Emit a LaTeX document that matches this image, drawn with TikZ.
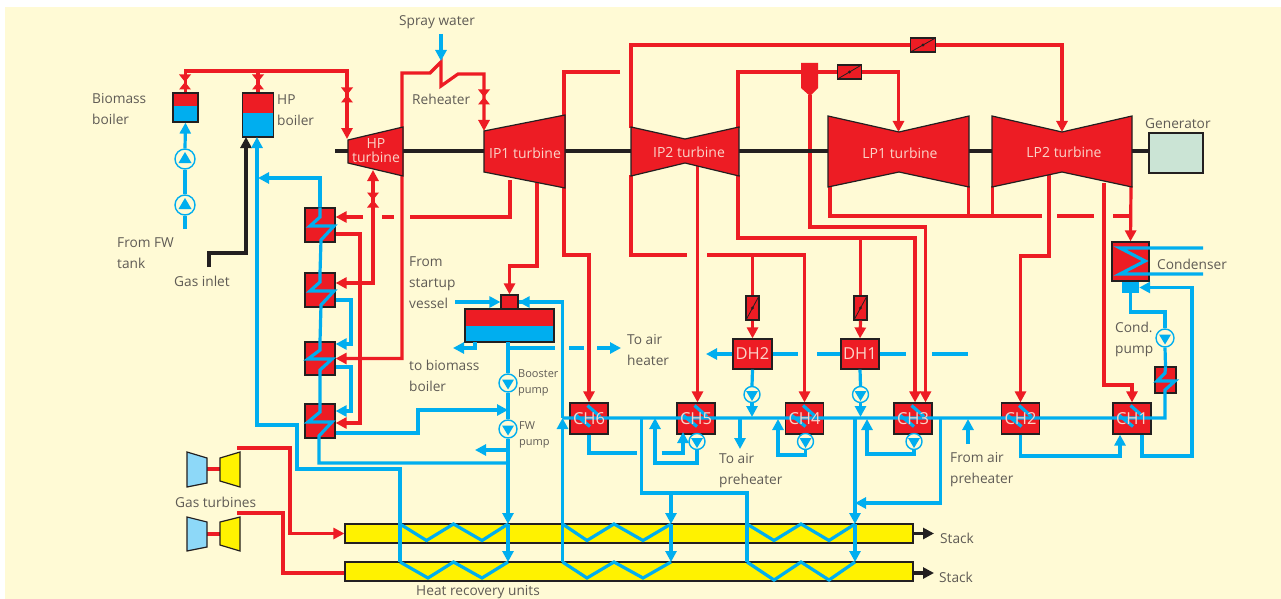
\documentclass[tikz,border=0pt]{standalone}
\usepackage{fontspec}
\setmainfont{Open Sans}
\usetikzlibrary{arrows.meta,calc}
\definecolor{steam}{HTML}{ED1C24}
\definecolor{water}{HTML}{00AEEF}
\definecolor{cream}{HTML}{FFFAD5}
\definecolor{dark}{HTML}{231F20}
\definecolor{txtgrey}{HTML}{5F5B55}
\definecolor{pale}{HTML}{FBD3C8}
\definecolor{genfill}{HTML}{CBE4D5}
\definecolor{hrufill}{HTML}{FFF200}
\definecolor{gcfill}{HTML}{8DD8F8}

\begin{document}
\begin{tikzpicture}[x=1pt,y=-1pt,
  stm/.style={draw=steam, line width=3.2pt},
  stma/.style={stm, -{Triangle[length=11pt,width=11pt]}},
  stmb/.style={stm, {Triangle[length=11pt,width=11pt]}-{Triangle[length=11pt,width=11pt]}},
  wat/.style={draw=water, line width=3.2pt},
  wata/.style={wat, -{Triangle[length=11pt,width=11pt]}},
  blk/.style={draw=dark, line width=3.2pt},
  blka/.style={blk, -{Triangle[length=11pt,width=11pt]}},
  lbl/.style={font=\fontsize{13.7}{21}\selectfont, text=txtgrey, align=left, anchor=west, inner sep=0pt},
  tiny/.style={lbl, font=\fontsize{11}{16}\selectfont},
  inlbl/.style={font=\fontsize{14}{14}\selectfont, text=pale, align=center, inner sep=0pt},
  bigl/.style={font=\fontsize{16.5}{18}\selectfont, text=pale, inner sep=0pt},
  box/.style={rectangle, draw=dark, line width=1.2pt, fill=steam, inner sep=0pt},
  heater/.style={box, minimum width=30pt, minimum height=34pt},
  chbox/.style={box, minimum width=38pt, minimum height=31pt,
    path picture={\draw[wat,shift={(path picture bounding box.center)}] (-1.5,-13) -- (11,-2) (-14,-4) -- (1,8);}},
  drum/.style={box, path picture={\fill[water] ([yshift=#1]path picture bounding box.south west) rectangle (path picture bounding box.south east);}},
  damper/.style={box,
    path picture={\draw[dark, line width=.8pt] (path picture bounding box.south west) -- (path picture bounding box.north east);
      \fill[dark] (path picture bounding box.center) circle (1.6);}},
  bowtie/.style={minimum width=12pt, minimum height=15pt, inner sep=0pt,
    path picture={\fill[steam] (path picture bounding box.north west) -- (path picture bounding box.north east) -- (path picture bounding box.south west) -- (path picture bounding box.south east) -- cycle;}},
  pumpu/.style={circle, draw=water, line width=1.4pt, fill=cream, minimum size=20pt, inner sep=0pt,
    path picture={\fill[water,shift={(path picture bounding box.center)}] (-6.5,4) -- (6.5,4) -- (0,-7) -- cycle;}},
  pumpd/.style={circle, draw=water, line width=1.4pt, fill=cream, minimum size=#1, inner sep=0pt,
    path picture={\fill[water,shift={(path picture bounding box.center)}] (-6,-3.5) -- (6,-3.5) -- (0,6.5) -- cycle;}},
  turb/.style={draw=dark, line width=1.2pt, fill=steam, line join=miter},
  gas/.style={draw=dark, line width=1.2pt, fill=#1}
]
  \useasboundingbox (0,0) rectangle (1281,599);
  \fill[white] (0,0) rectangle (1281,599);
  \fill[cream] (5,7) rectangle (1281,599);

  % junctions and free ends
  \coordinate (hdr) at (347,71);
  \coordinate (hpin) at (347,139);
  \coordinate (hpout) at (373,170);
  \coordinate (ip1in) at (484,131);
  \coordinate (ip1out) at (510,180);
  \coordinate (ip1dea) at (537,183);
  \coordinate (ip2tl) at (631,128);
  \coordinate (ip2bl) at (631,175);
  \coordinate (ip2tr) at (738,128);
  \coordinate (ip2br) at (738,175);
  \coordinate (ip2c) at (697.5,162);
  \coordinate (lp1in) at (898.5,132);
  \coordinate (lp2in) at (1062,132);
  \coordinate (lp1bl) at (830,186);
  \coordinate (lp1br) at (968.5,186);
  \coordinate (lp2bl) at (992.7,186);
  \coordinate (lp2m) at (1049,175);
  \coordinate (lp2n) at (1104,183);
  \coordinate (lp2r) at (1131,186);
  \coordinate (sep) at (810,95);
  \coordinate (d1) at (363,217);
  \coordinate (d2) at (382,217);
  \coordinate (d3) at (394,217);
  \coordinate (d4) at (410,217);
  \coordinate (rh1) at (620,72);
  \coordinate (a1) at (687,255);
  \coordinate (a2) at (707,255);
  \coordinate (a3) at (752.5,255);
  \coordinate (b1) at (860.5,238);
  \coordinate (e1) at (1042,216);
  \coordinate (e2) at (1057,216);
  \coordinate (e3) at (1094,216);
  \coordinate (e4) at (1113,216);
  \coordinate (e5) at (1131,216);
  \coordinate (e6) at (968.5,216);
  \coordinate (e7) at (992.7,216);
  \coordinate (shl) at (335,151);
  \coordinate (gc1) at (207,469);
  \coordinate (gt1) at (220,469);
  \coordinate (gt1o) at (237,448);
  \coordinate (gc2) at (207,534);
  \coordinate (gt2) at (220,534);
  \coordinate (gt2o) at (237,513);
  \coordinate (spr1) at (441,34);
  \coordinate (spr2) at (441,61);
  \coordinate (fwin) at (185,229);
  \coordinate (gas1) at (209,267);
  \coordinate (gas2) at (246,137);
  \coordinate (hpf) at (257,137);
  \coordinate (hpb1) at (258,178);
  \coordinate (j1u) at (400,524);
  \coordinate (j1v) at (508,524);
  \coordinate (j2u) at (562.5,524);
  \coordinate (j2v) at (671,524);
  \coordinate (j3u) at (747,524);
  \coordinate (j3v) at (855,524);
  \coordinate (k1u) at (400,562);
  \coordinate (k1v) at (508,562);
  \coordinate (k2u) at (562.5,562);
  \coordinate (k2v) at (671,562);
  \coordinate (k3u) at (747,562);
  \coordinate (k3v) at (855,562);
  \coordinate (vesin) at (455,302);
  \coordinate (deao) at (508,342);
  \coordinate (deal) at (475,342);
  \coordinate (deal2) at (453,348);
  \coordinate (air0) at (508,348);
  \coordinate (air1) at (555,348);
  \coordinate (air2) at (569,348);
  \coordinate (air3) at (584,348);
  \coordinate (air4) at (597,348);
  \coordinate (air5) at (621,348);
  \coordinate (fwj1) at (508,410);
  \coordinate (fwj2) at (508,450);
  \coordinate (fwj3) at (475,450);
  \coordinate (fwj4) at (508,463);
  \coordinate (m6) at (562.5,418);
  \coordinate (m7) at (641.5,418);
  \coordinate (m5c) at (655,418);
  \coordinate (mair) at (740,418);
  \coordinate (mairo) at (740,449);
  \coordinate (m4c) at (778,419);
  \coordinate (m3) at (940.5,418);
  \coordinate (m4) at (855,418);
  \coordinate (m3c) at (867,419);
  \coordinate (mdh2) at (752,417);
  \coordinate (mdh1) at (860.5,417);
  \coordinate (fair1) at (968,444);
  \coordinate (fair2) at (968,419);
  \coordinate (h6a) at (637,453);
  \coordinate (h5a) at (661.7,453);
  \coordinate (h5b) at (683,432);
  \coordinate (x1) at (671,493);
  \coordinate (x2) at (855,503);
  \coordinate (dh2l) at (706,354);
  \coordinate (dha) at (798,354);
  \coordinate (dhb) at (817,354);
  \coordinate (dhc) at (906,354);
  \coordinate (dhd) at (932,354);
  \coordinate (dhe) at (968,354);
  \coordinate (co1) at (1203,248);
  \coordinate (co2) at (1203,274);
  \coordinate (st1) at (934,533.5);
  \coordinate (st2) at (934,573);

  % boilers, heaters, vessels
  \node[drum=16pt, minimum width=25pt, minimum height=29pt] (bio) at (185.5,107.5) {};
  \node[drum=24pt, minimum width=31pt, minimum height=44pt] (hpb) at (258,115) {};
  \node[heater] (sh1) at (320,225) {};
  \node[heater] (sh2) at (320,290) {};
  \node[heater, minimum height=33pt] (sh3) at (320,358.5) {};
  \node[heater] (sh4) at (320,421) {};
  \node[drum=16pt, minimum width=89pt, minimum height=33pt] (dea) at (509.5,325.5) {};
  \node[box, minimum width=17pt, minimum height=14pt] (dean) at (509.5,302) {};
  \fill[steam] ([xshift=1pt]dean.south west) rectangle ([xshift=-1pt,yshift=-1.2pt]dean.south east);
  \node[chbox] (ch6) at (589,418.5) {};
  \node[chbox] (ch5) at (696,418.5) {};
  \node[chbox] (ch4) at (804.5,418.5) {};
  \node[chbox] (ch3) at (913,418.5) {};
  \node[chbox] (ch2) at (1020.5,418.5) {};
  \node[chbox] (ch1) at (1132,418.5) {};
  \node[box, minimum width=39pt, minimum height=30pt] (dh2) at (752.5,354) {};
  \node[box, minimum width=38pt, minimum height=30pt] (dh1) at (860,354) {};
  \node[box, minimum width=37pt, minimum height=39pt] (cond) at (1130.5,261.5) {};
  \node[rectangle, fill=water, minimum width=17pt, minimum height=11pt, inner sep=0pt] (hot) at (1130.5,287.5) {};
  \node[box, minimum width=21pt, minimum height=26pt] (gch) at (1165.5,380) {};
  \node[box, fill=genfill, minimum width=54pt, minimum height=40pt] (gen) at (1176,153) {};
  \node[box, fill=hrufill, minimum width=568pt, minimum height=19pt] (hru1) at (629,533.5) {};
  \node[box, fill=hrufill, minimum width=568pt, minimum height=19pt] (hru2) at (629,571.5) {};

  % valves and pumps
  \node[bowtie] (v1) at (185,82) {};
  \node[bowtie] (v2) at (258,82) {};
  \node[bowtie] (v3) at (347,95) {};
  \node[bowtie] (v4) at (373,200) {};
  \node[bowtie] (v5) at (484,97) {};
  \node[damper, minimum width=25pt, minimum height=14pt] (dmp1) at (923,45) {};
  \node[damper, minimum width=24pt, minimum height=14pt] (dmp2) at (849.5,72) {};
  \node[damper, minimum width=13pt, minimum height=24pt] (dmp3) at (752.5,308) {};
  \node[damper, minimum width=13pt, minimum height=24pt] (dmp4) at (860.5,308) {};
  \node[pumpu] (pf1) at (185,159) {};
  \node[pumpu] (pf2) at (185,205) {};
  \node[pumpd=18pt] (pb) at (508,383) {};
  \node[pumpd=18pt] (pw) at (508,429) {};
  \node[pumpd=16pt] (pd2) at (752,394.5) {};
  \node[pumpd=16pt] (pd1) at (860.5,394.5) {};
  \node[pumpd=16pt] (pc5) at (697,441.5) {};
  \node[pumpd=16pt] (pc4) at (805.5,441.5) {};
  \node[pumpd=16pt] (pc3) at (914,441.5) {};
  \node[pumpd=18pt] (pcn) at (1165,338) {};

  % steam
  \draw[stma] (bio.north) |- (hdr) -- (hpin);
  \draw[stm] (hpb.north) -- (hpb.north |- hdr);
  \draw[stmb] (hpout) |- ([yshift=7pt]sh2.east);
  \draw[stmb] (sh3.east) -- (402,358.5) -- (402,73) -- (430,73) -- (441,62) -- (441,86) -- (458,74) -- (484,74) -- (ip1in);
  \draw[stma] ([yshift=-9pt]sh1.east) -- (360,234) -- (360,423) -- ([yshift=-2pt]sh4.east);
  \draw[stma] (d1) -- ([yshift=8pt]sh1.east);
  \draw[stm] (d2) -- (d3);
  \draw[stm] (ip1out) |- (d4);
  \draw[stma] (ip1dea) -- (537,266) -- (509.5,266) -- (dean.north);
  \draw[stma] (rh1) -- (564,72) -- (564,255) -- (589,255) -- (ch6.north);
  \draw[stm] (ip2tl) |- (dmp1.west);
  \draw[stma] (dmp1.east) -| (lp2in);
  \draw[stm] (ip2bl) |- (a1);
  \draw[stma] (a2) -| (ch4.north);
  \draw[stm] (a3) -- (dmp3.north);
  \draw[stma] (dmp3.south) -- (dh2.north);
  \draw[stma] (ip2c) -- (ip2c |- ch5.north);
  \draw[stm] (ip2tr) |- (dmp2.west);
  \draw[stma] (dmp2.east) -| (lp1in);
  \draw[stma] (ip2br) -- (738,238) -- (915,238) -- ([xshift=2pt]ch3.north);
  \draw[stm] (b1) -- (dmp4.north);
  \draw[stma] (dmp4.south) -- (dh1.north);
  \draw[stma] (sep) -- (810,227) -- (925.5,227) -- ([xshift=12.5pt]ch3.north);
  \draw[stm] (lp1bl) |- (e1);
  \draw[stm] (lp1br) -- (e6);
  \draw[stm] (lp2bl) -- (e7);
  \draw[stm] (e2) -- (e3);
  \draw[stm] (e4) -- (e5);
  \draw[stma] (lp2m) -- (1049,256) -- (1020.5,256) -- (ch2.north);
  \draw[stma] (lp2n) -- (1104,385) -- (1132,385) -- (ch1.north);
  \draw[stma] (lp2r) -- (cond.north);
  \draw[stma] (gt1o) -- (290,448) -- (290,533.5) -- (hru1.west);
  \draw[stm] (gt2o) -- (283,513) -- (283,573) -- ([yshift=-1.5pt]hru2.west);
  \draw[stm] (gc1) -- (gt1);
  \draw[stm] (gc2) -- (gt2);
  \fill[steam] (801,63) -- (818,63) -- (818,88) -- (810,96) -- (801,88) -- cycle;

  % shaft and turbines
  \draw[blk] (shl) -- (shl -| gen.west);
  \draw[turb] (348,140) -- (403,127) -- (403,176) -- (348,163) -- cycle;
  \draw[turb] (484,131) -- (565,115) -- (565,188) -- (484,172) -- cycle;
  \draw[turb] (631,127) -- (685,139) -- (739,127) -- (739,176) -- (685,163) -- (631,176) -- cycle;
  \draw[turb] (828,116) -- (899,132) -- (969,116) -- (969,187) -- (899,172) -- (828,187) -- cycle;
  \draw[turb] (992,116) -- (1062,132) -- (1132,116) -- (1132,187) -- (1062,172) -- (992,187) -- cycle;
  \draw[gas=gcfill] (187,452) -- (207,458) -- (207,483) -- (187,487) -- cycle;
  \draw[gas=hrufill] (220,458) -- (240,452) -- (240,487) -- (220,481) -- cycle;
  \draw[gas=gcfill] (187,517) -- (207,522) -- (207,547) -- (187,551) -- cycle;
  \draw[gas=hrufill] (220,522) -- (240,517) -- (240,551) -- (220,545) -- cycle;

  % gas and stack
  \draw[blka] (gas1) -- (209,253) -- (246,253) -- (gas2);
  \draw[blka] (hru1.east) -- (st1);
  \draw[blka] ([yshift=-1.5pt]hru2.east) -- (st2);

  % water
  \draw[wata] (spr1) -- (spr2);
  \draw[wat] (fwin) -- (pf2.south);
  \draw[wat] (pf2.north) -- (pf1.south);
  \draw[wata] (pf1.north) -- (bio.south);
  \draw[wata] (k1u) -- (400,469) -- (297,469) -- (297,425) -- (257,425) -- (hpf);
  \draw[wata] (sh1.north) |- (hpb1);
  \draw[wat] (sh1.north) -- (320,217) -- (310,226) -- (334,226) -- (321,240) -- (320,273) -- (sh2.north) -- (320,282) -- (310,291) -- (334,291) -- (321,305) -- (sh3.north) -- (320,350) -- (308,359) -- (332,359) -- (320,370) -- (sh4.north) -- (320,412) -- (308,422) -- (332,422) -- (319,436) -- (319,463) -- (fwj4);
  \draw[wata] ([yshift=-10pt]sh2.east) -- (351,300) -- (351,344) -- ([yshift=14.5pt]sh3.east);
  \draw[wata] ([yshift=-8.5pt]sh3.east) -- (351,367) -- (351,411) -- ([yshift=10pt]sh4.east);
  \draw[wata] ([yshift=-12pt]sh4.east) -- (418,433) -- (418,410) -- (fwj1);
  \draw[wata] (vesin) -- (dean.west);
  \draw[wat] (m6) -- (562.5,302) -- (dean.east);
  \draw[wata] (dean.east -| m6) -- (dean.east);
  \draw[wata] (deal) -- (475,348) -- (deal2);
  \draw[wat] (air0) -- (air1);
  \draw[wat] (air2) -- (air3);
  \draw[wata] (air4) -- (air5);
  \draw[wat] (deao) -- (pb.north);
  \draw[wat] (pb.south) -- (pw.north);
  \draw[wata] (pw.south) -- (j1v);
  \draw[wata] (j1v) -- (k1v);
  \draw[wata] (fwj2) -- (fwj3);
  \draw[wata] (k2u) -- (m6);
  \draw[wat] (m6) -- (1165,418) -- (1165,390) -- (1175,381) -- (1157,381) -- (1165,373) -- (gch.north);
  \draw[wat] (gch.north) -- (pcn.south);
  \draw[wat] (pcn.north) -- (1165,312) -- (1130.5,312) -- (hot.south);
  \draw[wat] (co1) -- (1120,248) -- (1145,261) -- (1120,274) -- (co2);
  \draw[wata] ([xshift=10pt]ch1.south) -- (1142,456) -- (1192,456) -- (1192,287.5) -- (hot.east);
  \draw[wata] (ch2.south) -- (1020.5,456) -- (1120,456) -- ([xshift=-12pt]ch1.south);
  \draw[wata] (fair1) -- (fair2);
  \draw[wat] (m7) -- (641.5,493) -- (747,493) -- (k3u);
  \draw[wata] (x1) -- (j2v);
  \draw[wata] (j2v) -- (k2v);
  \draw[wata] (m3) -- (940.5,503) -- (x2);
  \draw[wata] (m4) -- (j3v);
  \draw[wata] (j3v) -- (k3v);
  \draw[wata] (dh2.west) -- (dh2l);
  \draw[wat] (dh2.east) -- (dha);
  \draw[wat] (dhb) -- (dh1.west);
  \draw[wat] (dh1.east) -- (dhc);
  \draw[wat] (dhd) -- (dhe);
  \draw[wat] (dh2.south) -- (pd2.north);
  \draw[wata] (pd2.south) -- (mdh2);
  \draw[wat] (dh1.south) -- (pd1.north);
  \draw[wata] (pd1.south) -- (mdh1);
  \draw[wata] (mair) -- (mairo);
  \draw[wat] (ch6.south) -- (589,453) -- (h6a);
  \draw[wata] (pc5.south) -- (697,463) -- (655,463) -- (m5c);
  \draw[wata] (h5a) -- (683,453) -- (h5b);
  \draw[wata] (pc4.south) -- (805.5,455) -- (778,455) -- (m4c);
  \draw[wata] (pc3.south) -- (914,454) -- (867,454) -- (m3c);
  \draw[wat] (j1u) -- (426.5,540.5) -- (453.5,524) -- (482,540.5) -- (j1v);
  \draw[wat] (j2u) -- (587,540.5) -- (614,524) -- (643,540.5) -- (j2v);
  \draw[wat] (j3u) -- (774,540.5) -- (801,524) -- (829,540.5) -- (j3v);
  \draw[wat] (k1u) -- (428,578) -- (453.5,562) -- (482,578) -- (k1v);
  \draw[wat] (k2u) -- (587,578) -- (614,562) -- (643,578) -- (k2v);
  \draw[wat] (k3u) -- (774,580) -- (801,562) -- (829,580) -- (k3v);

  % texts on the equipment
  \node[inlbl] (thp) at (376,151) {HP\\turbine};
  \node[inlbl] (tip1) at (525,153) {IP1 turbine};
  \node[inlbl] (tip2) at (689,152) {IP2 turbine};
  \node[inlbl] (tlp1) at (900,153) {LP1 turbine};
  \node[inlbl] (tlp2) at (1064,152) {LP2 turbine};
  \node[bigl] (tch6) at (ch6) {CH6};
  \node[bigl] (tch5) at (ch5) {CH5};
  \node[bigl] (tch4) at (ch4) {CH4};
  \node[bigl] (tch3) at (ch3) {CH3};
  \node[bigl] (tch2) at (ch2) {CH2};
  \node[bigl] (tch1) at (ch1) {CH1};
  \node[bigl] (tdh2) at (dh2) {DH2};
  \node[bigl] (tdh1) at (dh1) {DH1};

  % labels
  \node[lbl] (lspray) at (399,22.5) {Spray water};
  \node[lbl] (lbio) at (92,109.5) {Biomass\\boiler};
  \node[lbl] (lhp) at (277,110) {HP\\boiler};
  \node[lbl] (lreh) at (412,99) {Reheater};
  \node[lbl] (lfw) at (117,253) {From FW\\tank};
  \node[lbl] (lgas) at (174,281) {Gas inlet};
  \node[lbl] (lgen) at (1145,124) {Generator};
  \node[lbl] (lcond) at (1157,264) {Condenser};
  \node[lbl] (lcp) at (1115,339.5) {Cond.\\pump};
  \node[lbl] (lstart) at (409,283) {From\\startup\\vessel};
  \node[lbl] (lbiob) at (409,375.5) {to biomass\\boiler};
  \node[lbl] (lair) at (627,350) {To air\\heater};
  \node[tiny] (lboost) at (518,383) {Booster\\pump};
  \node[tiny] (lfwp) at (519,435) {FW\\pump};
  \node[lbl] (lpre) at (719,471) {To air\\preheater};
  \node[lbl] (lfpre) at (950,470) {From air\\preheater};
  \node[lbl] (lgt) at (175,502) {Gas turbines};
  \node[lbl] (lst1) at (940,538) {Stack};
  \node[lbl] (lst2) at (939,577) {Stack};
  \node[lbl] (lhru) at (416,592) {Heat recovery units};
\end{tikzpicture}
\end{document}
